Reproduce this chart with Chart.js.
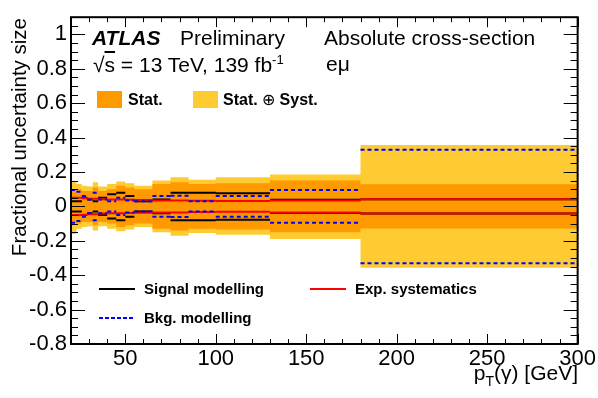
<!DOCTYPE html>
<html lang="en">
<head>
  <meta charset="UTF-8" />
  <title>Fractional uncertainty size vs photon pT</title>
  <!-- Chart.js CDN for charting -->
  <script src="https://cdn.jsdelivr.net/npm/chart.js"></script>
  <style>
    body {
      margin: 0;
      background: #fff;
      font-family: 'Liberation Sans', Arial, Helvetica, sans-serif;
    }
    #wrap { position: relative; width: 598px; height: 398px; }
    .lbl { position: absolute; white-space: nowrap; color: #000; line-height: 1; }
    .big { font-size: 21px; }
    .leg { font-size: 15px; font-weight: bold; }
    .swatch { position: absolute; width: 25px; height: 17px; }
    .lline { position: absolute; height: 2px; width: 36px; }
  </style>
</head>
<body>
  <div id="wrap">
    <canvas id="uncChart" width="598" height="398"></canvas>

    <!-- ATLAS labels -->
    <div class="lbl big" style="left:92px; top:27px; font-weight:bold; font-style:italic;">ATLAS</div>
    <div class="lbl big" style="left:180px; top:27px;">Preliminary</div>
    <div class="lbl big" style="left:93px; top:53px;">&radic;<span style="text-decoration:overline">s</span> = 13 TeV, 139 fb<sup style="font-size:13px; vertical-align:8px;">-1</sup></div>
    <div class="lbl big" style="left:324px; top:27px;">Absolute cross-section</div>
    <div class="lbl big" style="left:326px; top:53px;">e&mu;</div>

    <!-- band legend -->
    <div class="swatch" style="left:97px; top:91px; background:#fe9900;"></div>
    <div class="lbl leg" style="left:128px; top:92px; font-size:16px;">Stat.</div>
    <div class="swatch" style="left:193px; top:91px; background:#fecb33;"></div>
    <div class="lbl leg" style="left:223px; top:92px; font-size:16px;">Stat. <span style="font-weight:normal">&oplus;</span> Syst.</div>

    <!-- line legend -->
    <div class="lline" style="left:99px; top:288px; background:#000;"></div>
    <div class="lbl leg" style="left:144px; top:281px;">Signal modelling</div>
    <div class="lline" style="left:310px; top:288px; background:#ff0000;"></div>
    <div class="lbl leg" style="left:355px; top:281px;">Exp. systematics</div>
    <div class="lline" style="left:99px; top:317px; background:repeating-linear-gradient(to right, #0000ff 0 4px, transparent 4px 6px);"></div>
    <div class="lbl leg" style="left:144px; top:310px;">Bkg. modelling</div>

    <!-- axis titles -->
    <div class="lbl" style="left:8px; top:263px; width:245px; text-align:right; font-size:20.5px; line-height:22px; transform-origin:0 0; transform:rotate(-90deg);">Fractional uncertainty size</div>
    <div class="lbl big" style="right:20px; top:362px;">p<sub style="font-size:14px; vertical-align:-6px;">T</sub>(&gamma;) [GeV]</div>
  </div>

  <script>
    // photon pT bin edges [GeV]
    const binEdges = [20, 23, 26, 29, 32, 35, 40, 45, 50, 55, 65, 75, 85, 100, 130, 180, 300];

    // relative uncertainties per bin
    const totalUp   = [0.140, 0.130, 0.120, 0.115, 0.140, 0.115, 0.130, 0.145, 0.135, 0.120, 0.150, 0.170, 0.155, 0.170, 0.185, 0.357];
    const totalDown = [0.160, 0.130, 0.120, 0.115, 0.140, 0.115, 0.130, 0.145, 0.135, 0.120, 0.150, 0.170, 0.155, 0.165, 0.190, 0.357];
    const statUnc   = [0.100, 0.100, 0.090, 0.090, 0.110, 0.090, 0.100, 0.120, 0.110, 0.100, 0.130, 0.140, 0.130, 0.134, 0.150, 0.129];
    const signalUnc = [0.030, 0.030, 0.050, 0.040, 0.030, 0.050, 0.070, 0.080, 0.060, 0.030, 0.040, 0.080, 0.080, 0.077, 0.038, 0.042];
    const expUnc    = [0.050, 0.050, 0.048, 0.045, 0.045, 0.042, 0.040, 0.040, 0.038, 0.037, 0.035, 0.035, 0.033, 0.031, 0.035, 0.041];
    const bkgUnc    = [0.095, 0.085, 0.060, 0.040, 0.080, 0.040, 0.030, 0.050, 0.035, 0.030, 0.060, 0.062, 0.030, 0.060, 0.095, 0.330];

    const xTicks = [50, 100, 150, 200, 250, 300];
    const yTicks = [-0.8, -0.6, -0.4, -0.2, 0, 0.2, 0.4, 0.6, 0.8, 1];

    // connected step outline (for filled bands)
    function bandPoints(vals, sign) {
      const pts = [];
      vals.forEach((v, i) => {
        pts.push({ x: binEdges[i], y: sign * v });
        pts.push({ x: binEdges[i + 1], y: sign * v });
      });
      return pts;
    }

    // separate horizontal segment per bin (no vertical connectors)
    function segPoints(vals, sign) {
      const pts = [];
      vals.forEach((v, i) => {
        pts.push({ x: binEdges[i], y: sign * v });
        pts.push({ x: binEdges[i + 1], y: sign * v });
        pts.push({ x: binEdges[i + 1], y: null });
      });
      return pts;
    }

    function lineSet(vals, sign, color, order, dash) {
      return {
        data: segPoints(vals, sign),
        borderColor: color,
        borderWidth: 2,
        borderDash: dash || [],
        pointRadius: 0,
        fill: false,
        spanGaps: false,
        order: order
      };
    }

    // ROOT style frame with inward ticks on all four sides
    const framePlugin = {
      id: 'frame',
      afterDatasetsDraw(chart) {
        const { ctx, chartArea: a, scales: { x, y } } = chart;
        ctx.save();
        ctx.strokeStyle = '#000';
        ctx.lineWidth = 1;
        ctx.beginPath();
        for (let v = 20; v <= 300; v += 10) {
          const px = Math.round(x.getPixelForValue(v)) + 0.5;
          const len = v % 50 === 0 ? 10 : 5;
          ctx.moveTo(px, a.bottom); ctx.lineTo(px, a.bottom - len);
          ctx.moveTo(px, a.top); ctx.lineTo(px, a.top + len);
        }
        for (let k = -16; k < 22; k++) {
          const py = Math.round(y.getPixelForValue(k * 0.05)) + 0.5;
          const len = k % 4 === 0 ? 14 : 7;
          ctx.moveTo(a.left, py); ctx.lineTo(a.left + len, py);
          ctx.moveTo(a.right, py); ctx.lineTo(a.right - len, py);
        }
        ctx.stroke();
        ctx.lineWidth = 2;
        ctx.strokeRect(a.left, a.top, a.right - a.left, a.bottom - a.top);
        ctx.restore();
      }
    };

    const ctx = document.getElementById('uncChart').getContext('2d');
    new Chart(ctx, {
      type: 'line',
      data: {
        datasets: [
          // Stat. (+) Syst. band
          { data: bandPoints(totalUp, 1), borderWidth: 0, pointRadius: 0, backgroundColor: '#fecb33', fill: '+1', order: 10 },
          { data: bandPoints(totalDown, -1), borderWidth: 0, pointRadius: 0, fill: false, order: 10 },
          // Stat. band
          { data: bandPoints(statUnc, 1), borderWidth: 0, pointRadius: 0, backgroundColor: '#fe9900', fill: '+1', order: 9 },
          { data: bandPoints(statUnc, -1), borderWidth: 0, pointRadius: 0, fill: false, order: 9 },
          // individual components
          lineSet(signalUnc, 1, '#000000', 3),
          lineSet(signalUnc, -1, '#000000', 3),
          lineSet(expUnc, 1, '#ff0000', 2),
          lineSet(expUnc, -1, '#ff0000', 2),
          lineSet(bkgUnc, 1, '#0000ff', 1, [4, 3]),
          lineSet(bkgUnc, -1, '#0000ff', 1, [4, 3])
        ]
      },
      options: {
        responsive: false,
        animation: false,
        devicePixelRatio: 1,
        layout: { padding: { left: 0, right: 20, top: 10, bottom: 0 } },
        elements: { line: { tension: 0 } },
        plugins: {
          legend: { display: false },
          tooltip: { enabled: false }
        },
        scales: {
          x: {
            type: 'linear',
            min: 20,
            max: 300,
            grid: { display: false, drawTicks: false, tickLength: 0 },
            border: { display: false },
            afterBuildTicks: (scale) => { scale.ticks = xTicks.map(v => ({ value: v })); },
            afterFit: (scale) => { scale.height = 54; },
            ticks: {
              padding: 2,
              color: '#000',
              maxRotation: 0,
              font: { family: "'Liberation Sans', Arial, sans-serif", size: 22 },
              callback: (v) => String(v)
            }
          },
          y: {
            min: -0.8,
            max: 1.1,
            grid: { display: false, drawTicks: false, tickLength: 0 },
            border: { display: false },
            afterBuildTicks: (scale) => { scale.ticks = yTicks.map(v => ({ value: v })); },
            afterFit: (scale) => { scale.width = 71; },
            ticks: {
              padding: 4,
              color: '#000',
              font: { family: "'Liberation Sans', Arial, sans-serif", size: 22 },
              callback: (v) => String(Number(v.toFixed(1)))
            }
          }
        }
      },
      plugins: [framePlugin]
    });
  </script>
</body>
</html>
